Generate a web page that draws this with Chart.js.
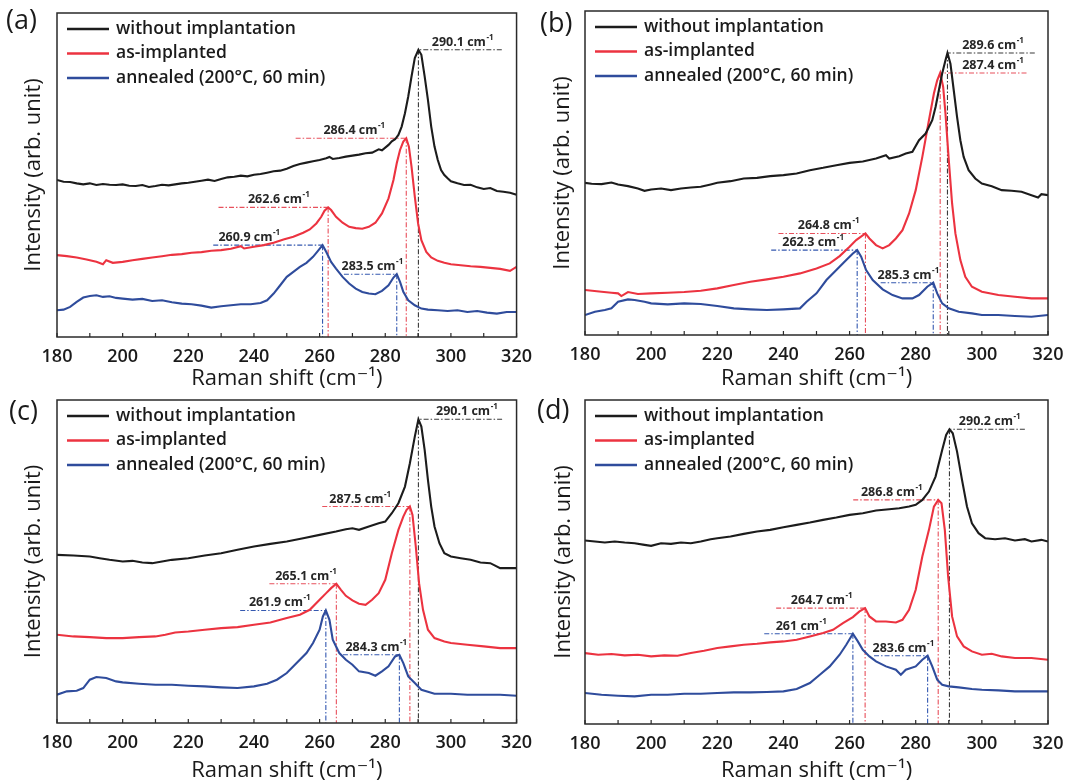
<!DOCTYPE html>
<html>
<head>
<meta charset="utf-8">
<script src="https://cdn.jsdelivr.net/npm/chart.js@4.4.0/dist/chart.umd.min.js"></script>
<style>
  body { margin: 0; background: #fff; }
  canvas { position: absolute; }
</style>
</head>
<body>
<canvas id="pa" width="533" height="392" style="left:0;top:0"></canvas>
<canvas id="pb" width="534" height="392" style="left:533px;top:0"></canvas>
<canvas id="pc" width="533" height="392" style="left:0;top:392px"></canvas>
<canvas id="pd" width="534" height="392" style="left:533px;top:392px"></canvas>
<script>
// Raman spectra, 4 samples, intensity in arbitrary units
const seriesNames = ["without implantation", "as-implanted", "annealed (200°C, 60 min)"];
const xTicks = [180, 200, 220, 240, 260, 280, 300, 320];

// (a)
const aWithout = [[180,47.0],[182,46.5],[184,46.4],[186,46.0],[188,45.7],[190,46.0],[192,45.5],[194,45.8],[196,45.6],[198,45.5],[200,45.7],[202,45.3],[204,45.2],[206,45.5],[208,44.9],[210,45.2],[212,45.6],[214,45.4],[216,45.7],[218,46.0],[220,46.2],[222,46.5],[224,46.8],[226,47.1],[228,46.7],[230,47.3],[232,47.8],[234,48.0],[236,48.3],[238,48.1],[240,48.6],[242,48.8],[244,49.2],[246,49.6],[248,49.8],[250,50.4],[252,51.2],[254,51.8],[256,52.2],[258,52.6],[260,53.0],[262,53.5],[263,53.9],[264,53.3],[266,53.6],[268,54.0],[270,54.3],[272,54.6],[274,55.0],[276,55.2],[278,56.2],[279,55.9],[280,56.7],[281,57.5],[282,58.6],[283,59.2],[284,60.5],[285,63.0],[286,67.0],[287,72.0],[288,78.0],[289,83.5],[290.1,86.0],[291,84.5],[292,78.0],[293,71.0],[294,63.0],[295,57.0],[296,53.0],[297,50.0],[298,48.5],[299,47.5],[300,46.6],[302,46.0],[304,45.5],[306,45.6],[308,44.8],[310,44.3],[312,44.6],[314,43.7],[316,43.5],[318,43.2],[320,42.6]];
const aImplanted = [[180,24.5],[183,24.2],[186,23.8],[189,23.2],[192,22.5],[194,21.8],[195,23.0],[197,22.2],[200,22.5],[203,23.0],[206,23.4],[209,23.8],[212,24.2],[215,24.6],[218,24.8],[221,25.2],[224,25.4],[227,25.8],[230,26.0],[233,26.4],[236,27.2],[237,26.5],[240,27.0],[243,27.5],[246,28.2],[249,29.2],[252,30.0],[255,31.2],[257,32.2],[259,34.0],[260.5,36.0],[261.5,37.8],[262.6,38.8],[263.5,38.0],[265,36.0],[267,34.2],[269,33.0],[271,32.6],[273,32.4],[275,33.0],[277,34.2],[279,37.0],[281,41.5],[282.5,47.0],[283.5,52.0],[284.5,56.0],[285.5,58.5],[286.4,59.5],[287.2,57.0],[288,51.0],[289,42.0],[290,34.0],[291,29.0],[292.5,25.5],[294,23.8],[296,22.8],[298,22.2],[300,21.8],[303,21.5],[306,21.2],[309,21.0],[312,20.7],[315,20.4],[318,19.8],[320,21.0]];
const aAnnealed = [[180,8.0],[182,8.2],[184,9.0],[186,10.5],[188,11.8],[190,12.3],[192,12.5],[194,12.0],[196,12.2],[198,11.7],[200,11.5],[203,11.2],[206,11.4],[209,10.8],[212,11.0],[215,10.4],[218,10.0],[221,9.8],[224,9.4],[227,8.8],[230,9.2],[233,9.5],[236,9.8],[239,9.8],[242,10.2],[244,11.0],[246,13.0],[248,15.5],[250,18.0],[252,19.5],[254,21.0],[256,22.2],[258,24.0],[259.5,25.8],[260.9,27.5],[262,25.5],[263.5,22.5],[265,20.5],[267,18.0],[269,16.0],[271,14.5],[273,13.5],[275,13.0],[277,12.8],[279,13.8],[281,15.5],[282.5,17.8],[283.5,18.8],[284.5,16.5],[285.5,13.5],[287,11.0],[289,9.5],[291,8.5],[293,8.2],[296,8.0],[299,7.8],[302,8.0],[305,7.5],[308,7.8],[311,7.3],[314,7.0],[317,7.5],[320,7.5]];
const aPeaks = [290.1, 286.4, 262.6, 260.9, 283.5];
const aPeakLevels = [86.0, 59.5, 38.8, 27.5, 18.8];
const aGuideEnds = [315.5, 252.7, 229.2, 227.6, 267.4];
const aTagAt = [303.5, 270.5, 247.5, 238.5, 276.0];
const aPeakOf = [0, 1, 1, 2, 2];

// (b)
const bWithout = [[180,45.7],[182,45.4],[185,45.3],[188,45.8],[190,45.2],[193,44.7],[196,44.0],[198,43.3],[200,43.7],[203,44.0],[206,43.5],[209,44.0],[212,44.3],[215,44.5],[218,45.2],[220,45.7],[224,46.2],[228,47.0],[232,47.2],[236,47.7],[240,48.0],[244,48.5],[248,49.5],[252,50.2],[256,51.0],[260,51.7],[264,52.1],[268,53.0],[271,54.0],[272,53.0],[275,53.7],[277,54.5],[279,55.0],[281,58.5],[283,60.5],[285,64.5],[286,68.5],[287,73.5],[288,78.5],[289,82.5],[289.6,84.7],[290.5,81.5],[291.5,73.5],[292.5,65.5],[293.5,58.5],[294.5,53.5],[296,49.5],[298,47.0],[300,45.5],[303,44.7],[306,43.5],[309,43.3],[312,43.0],[315,42.0],[317,41.3],[318,42.3],[320,42.0]];
const bImplanted = [[180,13.5],[185,13.0],[188,12.7],[190,12.5],[191,11.7],[193,12.9],[196,12.3],[200,12.5],[205,12.7],[210,12.9],[215,13.3],[220,14.0],[225,15.0],[230,16.0],[235,16.7],[240,17.5],[245,18.5],[250,20.0],[254,21.5],[257,23.7],[260,26.5],[262,28.5],[264.8,30.5],[266,29.0],[268,27.0],[270,26.0],[272,27.0],[274,29.0],[276,31.5],[278,36.5],[280,43.5],[282,53.5],[284,64.5],[285.5,72.5],[286.5,76.5],[287.4,78.7],[288.3,74.5],[289,66.5],[290,52.5],[291,39.5],[292,30.5],[293.5,22.5],[295,17.5],[297,14.5],[300,13.0],[305,12.0],[310,11.5],[315,11.0],[320,11.0]];
const bAnnealed = [[180,6.0],[183,7.0],[186,7.5],[188,8.0],[190,10.0],[193,10.7],[195,10.5],[198,10.0],[200,9.5],[205,9.2],[210,9.5],[215,9.3],[220,8.7],[225,8.0],[230,7.7],[235,7.5],[240,7.7],[245,8.0],[247,10.0],[250,12.5],[253,16.5],[256,19.5],[259,22.5],[261,24.5],[262.3,25.5],[263.5,23.5],[265,19.5],[267,16.5],[270,13.7],[273,12.0],[276,11.0],[279,11.0],[281,12.0],[283.5,14.5],[285.3,15.7],[286.5,12.5],[288,9.5],[290,8.0],[293,7.0],[297,6.5],[300,6.0],[305,6.0],[310,5.7],[315,5.5],[320,6.0]];
const bPeaks = [289.6, 287.4, 264.8, 262.3, 285.3];
const bPeakLevels = [84.7, 78.7, 30.5, 25.5, 15.7];
const bGuideEnds = [316.0, 313.5, 238.5, 236.3, 269.4];
const bTagAt = [303.3, 303.3, 253.6, 248.9, 277.7];
const bPeakOf = [0, 1, 1, 2, 2];

// (c)
const cWithout = [[180,50.5],[185,50.3],[190,50.0],[193,49.5],[196,49.0],[200,48.5],[203,48.7],[206,48.2],[209,48.0],[212,48.5],[215,49.0],[220,49.5],[225,50.3],[230,51.0],[235,52.0],[240,53.0],[245,53.8],[250,54.5],[255,55.5],[260,56.5],[265,57.5],[268,58.2],[270,58.5],[272,58.0],[275,59.0],[278,60.0],[280,60.5],[282,63.0],[284,66.0],[286,71.0],[287.5,78.0],[289,86.0],[290.1,91.2],[291,89.0],[292,82.0],[293,73.0],[294,65.0],[295,59.0],[296.5,54.0],[298,51.0],[300,50.0],[303,49.5],[306,49.0],[309,48.2],[312,48.0],[315,46.5],[317,46.5],[320,46.5]];
const cImplanted = [[180,26.5],[185,26.0],[190,25.8],[195,25.5],[200,25.5],[205,25.8],[210,26.0],[213,26.5],[216,27.2],[220,27.5],[225,28.0],[230,28.5],[235,28.8],[240,29.5],[245,30.2],[250,31.5],[254,32.5],[257,34.0],[260,37.0],[262,39.0],[263.5,40.5],[265.1,41.8],[266.5,40.0],[268,38.2],[270,36.8],[272,35.8],[274,35.5],[276,37.0],[278,39.0],[280,43.0],[282,51.0],[284,58.0],[285.5,62.0],[286.5,64.0],[287.5,65.0],[288.3,62.5],[289.3,53.0],[290.3,42.0],[291.5,34.0],[293,28.0],[295,25.5],[298,24.5],[300,24.0],[305,23.5],[310,23.0],[315,22.5],[320,22.5]];
const cAnnealed = [[180,8.5],[183,9.5],[186,9.7],[188,10.5],[190,13.0],[192,13.8],[195,13.5],[198,12.5],[200,12.2],[205,11.8],[210,11.5],[215,11.5],[220,11.2],[225,11.0],[230,10.7],[235,10.5],[240,11.0],[244,11.8],[247,13.0],[250,15.0],[253,18.0],[256,21.0],[258,24.0],[260,28.0],[261,32.0],[261.9,33.8],[263,31.0],[264,25.0],[266,21.0],[268,19.0],[270,17.5],[272,15.5],[275,15.0],[277,14.2],[279,15.5],[281,17.0],[283,20.0],[284.3,20.5],[285.5,18.0],[287,14.0],[289,12.0],[291,10.0],[295,8.8],[300,8.8],[305,8.5],[310,8.5],[315,8.5],[320,8.2]];
const cPeaks = [290.1, 287.5, 265.1, 261.9, 284.3];
const cPeakLevels = [91.2, 65.0, 41.8, 33.8, 20.5];
const cGuideEnds = [315.6, 260.8, 244.7, 235.8, 267.1];
const cTagAt = [304.8, 272.3, 255.8, 247.8, 277.2];
const cPeakOf = [0, 1, 1, 2, 2];

// (d)
const dWithout = [[180,55.1],[183,54.8],[186,54.5],[189,54.8],[192,54.5],[195,54.3],[198,53.8],[200,53.5],[203,54.3],[206,54.1],[209,54.5],[212,54.3],[215,54.8],[218,55.5],[220,55.8],[224,56.3],[228,57.1],[232,57.8],[236,58.3],[240,59.1],[244,59.8],[248,60.5],[252,61.3],[256,62.0],[260,62.8],[264,63.3],[268,64.1],[272,64.5],[275,64.8],[278,65.3],[280,65.8],[282,67.3],[284,69.8],[286,74.3],[288,82.3],[289.2,86.8],[290.2,88.5],[291.2,87.3],[292.5,81.8],[294,73.3],[295.5,65.3],[297,60.3],[299,57.3],[301,55.8],[304,55.5],[307,55.8],[310,55.1],[313,55.5],[315,54.8],[318,55.3],[320,54.8]];
const dImplanted = [[180,21.3],[184,20.8],[188,21.0],[192,20.6],[196,20.8],[200,20.3],[204,20.6],[208,20.5],[212,21.3],[216,22.0],[220,22.8],[224,23.3],[228,23.8],[232,24.1],[236,24.5],[240,24.8],[244,25.3],[248,26.3],[252,27.3],[255,28.3],[258,30.3],[261,32.1],[263,33.8],[264.7,34.8],[266,32.3],[268,30.8],[271,30.8],[274,30.5],[276,31.3],[278,34.3],[280,40.3],[282,50.3],[284,58.3],[285.5,65.3],[286.8,67.3],[287.8,66.3],[288.8,58.3],[289.8,44.3],[291,32.3],[292.5,26.3],[294.5,23.3],[297,21.8],[300,20.8],[303,21.1],[306,20.3],[310,19.8],[315,19.8],[320,19.3]];
const dAnnealed = [[180,9.3],[185,8.8],[190,8.5],[195,8.3],[200,8.8],[205,8.8],[210,9.1],[215,9.1],[220,9.3],[225,9.5],[230,9.5],[235,9.6],[240,9.8],[244,10.5],[248,12.3],[251,14.8],[254,17.3],[257,20.8],[259,23.8],[261,27.1],[262.5,24.8],[264,22.3],[266,20.3],[268,18.8],[271,17.3],[274,16.3],[275.5,14.8],[277,16.3],[280,17.3],[282,19.3],[283.6,20.5],[285,17.3],[286.5,13.3],[288,11.8],[290,11.3],[293,11.0],[297,10.5],[300,10.3],[305,10.1],[310,9.8],[315,9.8],[320,9.8]];
const dPeaks = [290.2, 286.8, 264.7, 261, 283.6];
const dPeakLevels = [88.5, 67.3, 34.8, 27.1, 20.5];
const dGuideEnds = [313.0, 261.1, 237.8, 234.2, 267.4];
const dTagAt = [302.3, 272.7, 251.5, 245.3, 276.2];
const dPeakOf = [0, 1, 1, 2, 2];

const lineColors = ["#1c1c1c", "#ec3340", "#2f4c9c"];
const guideColors = ["#3a3a3a", "#e8505c", "#3458b0"];
const FONT = "'Open Sans', 'DejaVu Sans', sans-serif";

// legend, frame, inward ticks, peak guides and their labels
const decoPlugin = {
    id: "deco",
    beforeDatasetsDraw(chart, args, o) {
        let ctx = chart.ctx;
        let xs = chart.scales.x, ys = chart.scales.y;
        let area = chart.chartArea;
        ctx.save();
        ctx.lineWidth = 1.1;
        ctx.setLineDash([5, 2, 1.5, 2]);
        o.peaks.forEach((p, i) => {
            let px = xs.getPixelForValue(p);
            let py = ys.getPixelForValue(o.levels[i]);
            let ex = xs.getPixelForValue(o.ends[i]);
            ctx.strokeStyle = guideColors[o.owners[i]];
            ctx.beginPath();
            ctx.moveTo(ex, py);
            ctx.lineTo(px, py);
            ctx.moveTo(px, py);
            ctx.lineTo(px, area.bottom);
            ctx.stroke();
        });
        ctx.restore();
    },
    afterDraw(chart, args, o) {
        let ctx = chart.ctx;
        let xs = chart.scales.x, ys = chart.scales.y;
        let area = chart.chartArea;
        ctx.save();
        // frame
        ctx.strokeStyle = "#2a2a2a";
        ctx.lineWidth = 1.5;
        ctx.strokeRect(area.left, area.top, area.right - area.left, area.bottom - area.top);
        // inward ticks
        ctx.lineWidth = 1.2;
        ctx.beginPath();
        xs.ticks.forEach((t) => {
            let px = xs.getPixelForValue(t.value);
            ctx.moveTo(px, area.bottom);
            ctx.lineTo(px, area.bottom - 4);
        });
        ctx.stroke();
        // peak labels
        ctx.fillStyle = "#262626";
        ctx.textBaseline = "alphabetic";
        o.peaks.forEach((p, i) => {
            let main = p + " cm";
            ctx.font = "bold 12.5px " + FONT;
            let w1 = ctx.measureText(main).width;
            ctx.font = "bold 8px " + FONT;
            let w2 = ctx.measureText("-1").width;
            let cx = xs.getPixelForValue(o.tags[i]);
            let y = ys.getPixelForValue(o.levels[i]) - 4;
            let x0 = cx - (w1 + w2) / 2;
            ctx.font = "bold 12.5px " + FONT;
            ctx.textAlign = "left";
            ctx.fillText(main, x0, y);
            ctx.font = "bold 8px " + FONT;
            ctx.fillText("-1", x0 + w1 + 0.5, y - 6);
        });
        // legend
        seriesNames.forEach((name, i) => {
            let ry = area.top + 16 + i * 24.5;
            ctx.strokeStyle = lineColors[i];
            ctx.lineWidth = 2.5;
            ctx.beginPath();
            ctx.moveTo(area.left + 10, ry);
            ctx.lineTo(area.left + 52, ry);
            ctx.stroke();
            ctx.fillStyle = "#1a1a1a";
            ctx.font = "600 17.5px " + FONT;
            ctx.textBaseline = "middle";
            ctx.fillText(name, area.left + 59, ry);
        });
        // panel letter
        ctx.font = "27px " + FONT;
        ctx.textBaseline = "middle";
        ctx.fillText(o.letter, o.letterX, o.letterY);
        ctx.restore();
    },
};

function makePanel(id, letter, series, peaks, levels, ends, tags, owners, box) {
    let datasets = series.map((s, i) => ({
        label: seriesNames[i],
        data: s.map((p) => ({ x: p[0], y: p[1] })),
        borderColor: lineColors[i],
        borderWidth: 2.1,
        pointRadius: 0,
        tension: 0,
        fill: false,
    }));
    new Chart(document.getElementById(id), {
        type: "line",
        data: { datasets: datasets },
        options: {
            responsive: false,
            animation: false,
            layout: { padding: { left: 0, top: box.top, right: box.right, bottom: 0 } },
            scales: {
                x: {
                    type: "linear",
                    min: 180,
                    max: 320,
                    ticks: {
                        stepSize: 10,
                        autoSkip: false,
                        maxRotation: 0,
                        padding: 1,
                        color: "#1a1a1a",
                        font: { family: FONT, size: 18, weight: "600" },
                        callback: (v) => (xTicks.includes(v) ? String(v) : ""),
                    },
                    grid: { display: false },
                    border: { display: false },
                    title: {
                        display: true,
                        text: "Raman shift (cm⁻¹)",
                        color: "#1a1a1a",
                        font: { family: FONT, size: 22, weight: "500" },
                        padding: { top: 0, bottom: 0 },
                    },
                    afterFit: (s) => { s.height = box.bottom; },
                },
                y: {
                    min: 0,
                    max: box.yMax,
                    ticks: { display: false },
                    grid: { display: false },
                    border: { display: false },
                    title: {
                        display: true,
                        text: "Intensity (arb. unit)",
                        color: "#1a1a1a",
                        font: { family: FONT, size: 22, weight: "500" },
                        padding: { top: box.yTitle - 13.2, bottom: 0 },
                    },
                    afterFit: (s) => { s.width = box.left; },
                },
            },
            plugins: {
                legend: { display: false },
                tooltip: { enabled: false },
                deco: {
                    letter: letter, letterX: box.lx, letterY: box.ly,
                    peaks: peaks, levels: levels, ends: ends, tags: tags, owners: owners,
                },
            },
        },
        plugins: [decoPlugin],
    });
}

makePanel("pa", "(a)", [aWithout, aImplanted, aAnnealed], aPeaks, aPeakLevels, aGuideEnds, aTagAt, aPeakOf,
    { left: 57, right: 15, top: 13, bottom: 55, yMax: 97, yTitle: 34, lx: 6, ly: 21 });
makePanel("pb", "(b)", [bWithout, bImplanted, bAnnealed], bPeaks, bPeakLevels, bGuideEnds, bTagAt, bPeakOf,
    { left: 52, right: 19, top: 11, bottom: 57, yMax: 97.3, yTitle: 30, lx: 7, ly: 24 });
makePanel("pc", "(c)", [cWithout, cImplanted, cAnnealed], cPeaks, cPeakLevels, cGuideEnds, cTagAt, cPeakOf,
    { left: 57, right: 15, top: 8, bottom: 61, yMax: 97, yTitle: 34, lx: 9, ly: 20 });
makePanel("pd", "(d)", [dWithout, dImplanted, dAnnealed], dPeaks, dPeakLevels, dGuideEnds, dTagAt, dPeakOf,
    { left: 52, right: 19, top: 8, bottom: 60, yMax: 97.3, yTitle: 31, lx: 4, ly: 19 });
</script>
</body>
</html>
